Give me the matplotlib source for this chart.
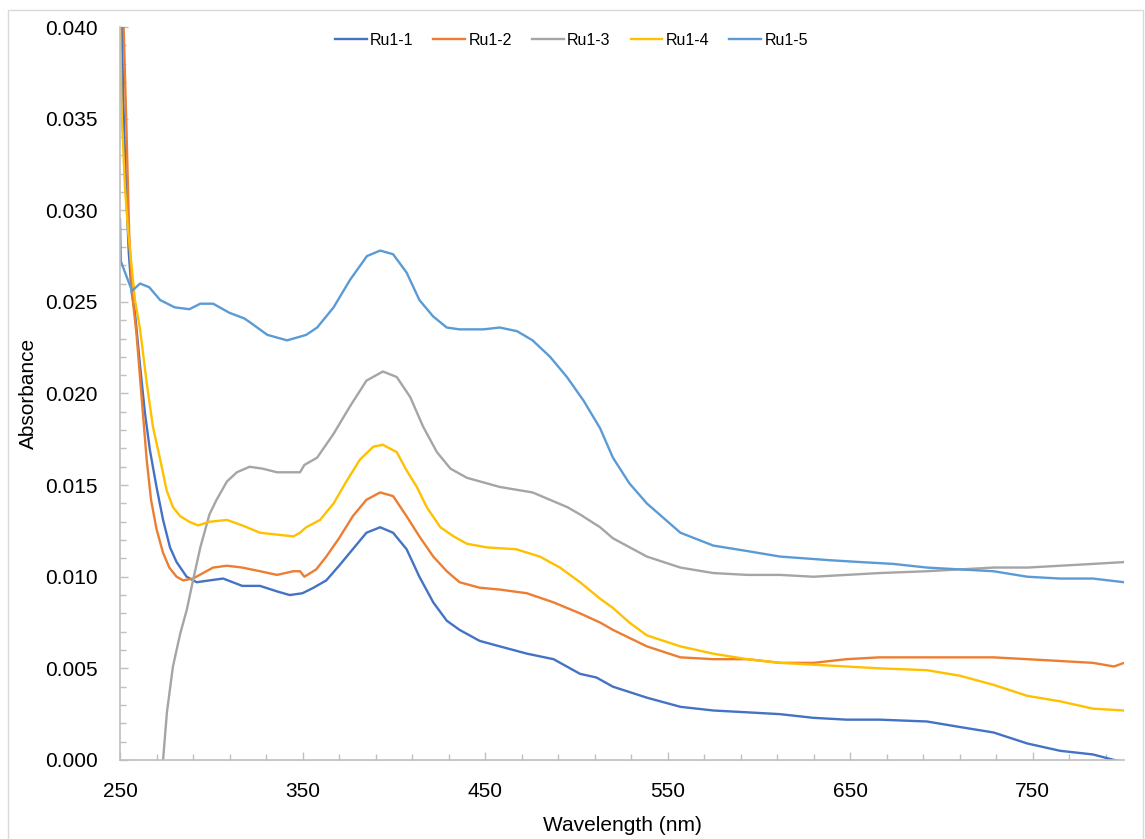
import numpy as np
import matplotlib.pyplot as plt
from matplotlib.patches import Rectangle

plt.rcParams['font.family'] = ['Liberation Sans', 'DejaVu Sans']

# Ru1-1
wl_1 = [250, 251, 251.8, 253.3, 254.8, 256.4, 258, 261, 263.7, 266.4, 270, 273.6, 277.4, 281,
        286.5, 292, 299, 306.5, 317, 326.7, 336, 343, 350, 356, 363, 370, 377.5, 385, 392.5,
        399.6, 407, 414, 421.6, 429, 436, 447, 458, 473, 487.5, 502, 511, 520, 538.6, 557, 575,
        593.6, 611.6, 629.8, 648, 666, 692, 710, 728.5, 747, 765, 783, 794.5, 800]
abs_1 = [0.0460, 0.0400, 0.0360, 0.0313, 0.0277, 0.0255, 0.0246, 0.0215, 0.0189, 0.0169, 0.0149,
         0.0131, 0.0116, 0.0108, 0.0100, 0.0097, 0.0098, 0.0099, 0.0095, 0.0095, 0.0092, 0.0090,
         0.0091, 0.0094, 0.0098, 0.0106, 0.0115, 0.0124, 0.0127, 0.0124, 0.0115, 0.0100, 0.0086,
         0.0076, 0.0071, 0.0065, 0.0062, 0.0058, 0.0055, 0.0047, 0.0045, 0.0040, 0.0034, 0.0029,
         0.0027, 0.0026, 0.0025, 0.0023, 0.0022, 0.0022, 0.0021, 0.0018, 0.0015, 0.0009, 0.0005,
         0.0003, 0.0000, -0.0001]

# Ru1-2
wl_2 = [250, 252, 253.6, 255, 256.4, 257, 259, 262, 264.6, 267, 270, 273.6, 277, 281, 284.6, 290,
        295.5, 301, 308.6, 317, 326.7, 336, 345, 348.6, 351, 357.5, 363, 370, 377.5, 385, 392.5,
        399.6, 407, 414, 421.6, 429, 436, 447, 458, 472.8, 487.5, 502, 513, 520, 538.6, 557, 575,
        593.6, 611.6, 629.8, 648, 666, 692, 710, 728.5, 747, 765, 783, 794.5, 800]
abs_2 = [0.0450, 0.0400, 0.0342, 0.0288, 0.0260, 0.0251, 0.0233, 0.0196, 0.0164, 0.0142, 0.0126,
         0.0113, 0.0105, 0.0100, 0.0098, 0.0099, 0.0102, 0.0105, 0.0106, 0.0105, 0.0103, 0.0101,
         0.0103, 0.0103, 0.0100, 0.0104, 0.0111, 0.0121, 0.0133, 0.0142, 0.0146, 0.0144, 0.0133,
         0.0122, 0.0111, 0.0103, 0.0097, 0.0094, 0.0093, 0.0091, 0.0086, 0.0080, 0.0075, 0.0071,
         0.0062, 0.0056, 0.0055, 0.0055, 0.0053, 0.0053, 0.0055, 0.0056, 0.0056, 0.0056, 0.0056,
         0.0055, 0.0054, 0.0053, 0.0051, 0.0053]

# Ru1-3
wl_3 = [250, 268, 272, 273.6, 275.7, 279, 283, 286.6, 290, 294, 299, 302.9, 308.6, 314, 321, 328,
        336, 343, 348.6, 351, 358, 367, 376, 385, 394, 401.6, 409, 416, 423.6, 431, 440, 458, 476,
        495, 502, 513, 520, 538.6, 557, 575, 593.6, 611.6, 629.8, 648, 666, 692, 710, 728.5, 747,
        765, 783, 800]
abs_3 = [-0.0200, -0.0050, -0.0012, 0.0000, 0.0026, 0.0051, 0.0069, 0.0082, 0.0098, 0.0116,
         0.0134, 0.0142, 0.0152, 0.0157, 0.0160, 0.0159, 0.0157, 0.0157, 0.0157, 0.0161, 0.0165,
         0.0178, 0.0193, 0.0207, 0.0212, 0.0209, 0.0198, 0.0182, 0.0168, 0.0159, 0.0154, 0.0149,
         0.0146, 0.0138, 0.0134, 0.0127, 0.0121, 0.0111, 0.0105, 0.0102, 0.0101, 0.0101, 0.0100,
         0.0101, 0.0102, 0.0103, 0.0104, 0.0105, 0.0105, 0.0106, 0.0107, 0.0108]

# Ru1-4
wl_4 = [250, 250.9, 252.7, 254.5, 256.4, 258.2, 261, 264.6, 268, 272, 275.6, 279, 283, 288, 292.7,
        299, 308.6, 317, 326.7, 336, 345, 348.6, 352, 359.6, 367, 374, 381.5, 388.8, 394, 401.6,
        407, 412.6, 418, 425.5, 432.8, 440, 451, 467, 480, 491, 502, 513, 520, 529, 538.6, 557,
        575, 593.6, 611.6, 629.8, 648, 666, 692, 710, 728.5, 747, 765, 783, 800]
abs_4 = [0.0405, 0.0353, 0.0313, 0.0288, 0.0269, 0.0251, 0.0235, 0.0206, 0.0182, 0.0164, 0.0147,
         0.0138, 0.0133, 0.0130, 0.0128, 0.0130, 0.0131, 0.0128, 0.0124, 0.0123, 0.0122, 0.0124,
         0.0127, 0.0131, 0.0140, 0.0152, 0.0164, 0.0171, 0.0172, 0.0168, 0.0158, 0.0149, 0.0138,
         0.0127, 0.0122, 0.0118, 0.0116, 0.0115, 0.0111, 0.0105, 0.0097, 0.0088, 0.0083, 0.0075,
         0.0068, 0.0062, 0.0058, 0.0055, 0.0053, 0.0052, 0.0051, 0.0050, 0.0049, 0.0046, 0.0041,
         0.0035, 0.0032, 0.0028, 0.0027]

# Ru1-5
wl_5 = [250, 250.5, 256.6, 261, 266, 272, 280, 288, 294, 301, 310, 318, 321, 330.7, 341.5, 348.6,
        352, 358, 367, 376, 385.3, 392.5, 399.6, 407, 414, 421.6, 429, 436, 449, 458, 467.5, 476,
        485.6, 494.8, 504, 513, 520, 529, 538.6, 557, 575, 593.6, 611.6, 639, 655.5, 673.6, 692,
        710, 728.5, 747, 765, 783, 800]
abs_5 = [0.0295, 0.0272, 0.0256, 0.0260, 0.0258, 0.0251, 0.0247, 0.0246, 0.0249, 0.0249, 0.0244,
         0.0241, 0.0239, 0.0232, 0.0229, 0.0231, 0.0232, 0.0236, 0.0247, 0.0262, 0.0275, 0.0278,
         0.0276, 0.0266, 0.0251, 0.0242, 0.0236, 0.0235, 0.0235, 0.0236, 0.0234, 0.0229, 0.0220,
         0.0209, 0.0196, 0.0181, 0.0165, 0.0151, 0.0140, 0.0124, 0.0117, 0.0114, 0.0111, 0.0109,
         0.0108, 0.0107, 0.0105, 0.0104, 0.0103, 0.0100, 0.0099, 0.0099, 0.0097]

series = [('Ru1-1', wl_1, abs_1, '#4472C4'),
          ('Ru1-2', wl_2, abs_2, '#ED7D31'),
          ('Ru1-3', wl_3, abs_3, '#A5A5A5'),
          ('Ru1-4', wl_4, abs_4, '#FFC000'),
          ('Ru1-5', wl_5, abs_5, '#5B9BD5')]

fig = plt.figure(figsize=(11.45, 8.39), dpi=100)
ax = fig.add_axes([0.1048, 0.0942, 0.8769, 0.8736])

for name, x, y, c in series:
    ax.plot(x, y, color=c, linewidth=1.7, label=name)

ax.set_xlim(250, 800)
ax.set_ylim(0, 0.040)
ax.set_xticks(np.arange(250, 751, 100))
ax.set_xticks(np.arange(250, 801, 20), minor=True)
ax.set_yticks(np.arange(0, 0.0401, 0.005))
ax.set_yticks(np.arange(0, 0.0401, 0.001), minor=True)
ax.yaxis.set_major_formatter(plt.FuncFormatter(lambda v, p: f'{v:.3f}'))

for s in ['top', 'right']:
    ax.spines[s].set_visible(False)
for s in ['left', 'bottom']:
    ax.spines[s].set_color('#BFBFBF')
    ax.spines[s].set_linewidth(1.2)

ax.tick_params(which='major', direction='in', length=6, width=1, color='#BFBFBF',
               labelsize=15, pad=16)
ax.tick_params(which='minor', direction='in', length=4, width=1, color='#BFBFBF')

ax.set_xlabel('Wavelength (nm)', fontsize=15, labelpad=11)
ax.set_ylabel('Absorbance', fontsize=15, labelpad=5)

fig.legend(loc='center', bbox_to_anchor=(0.499, 0.952), ncol=5, frameon=False,
           fontsize=11.5, handlelength=2.0, handletextpad=0.2, columnspacing=1.25)

fig.patches.append(Rectangle((8 / 1145, -0.01), 1135 / 1145, 1 - 10 / 839 + 0.01,
                             transform=fig.transFigure, fill=False,
                             edgecolor='#D9D9D9', linewidth=1))

fig.savefig('out.png', dpi=100)
